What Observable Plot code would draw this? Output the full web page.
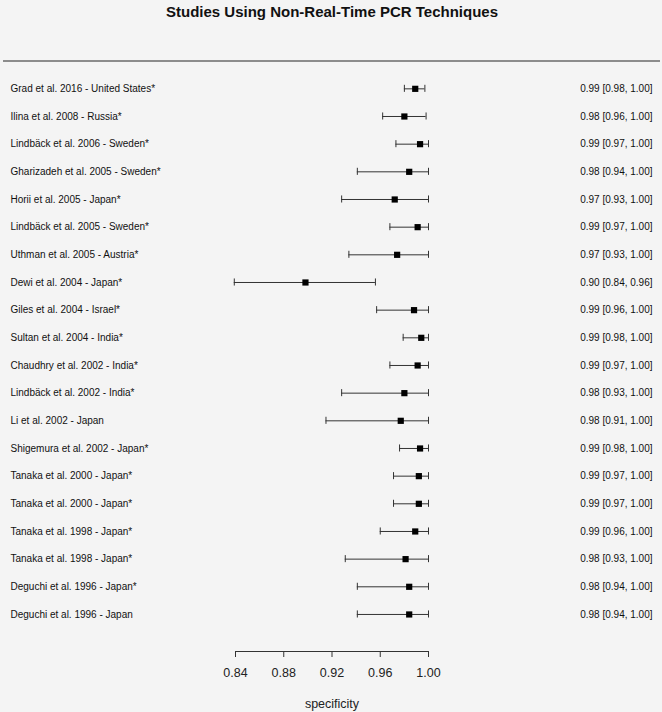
<!DOCTYPE html>
<html>
<head>
<meta charset="utf-8">
<script src="https://cdn.jsdelivr.net/npm/d3@7"></script>
<script src="https://cdn.jsdelivr.net/npm/@observablehq/plot@0.6"></script>
<style>
  html, body { margin: 0; padding: 0; background: #f4f4f4; }
  #chart { width: 662px; height: 712px; }
</style>
</head>
<body>
<div id="chart"></div>
<script>
const title = "Studies Using Non-Real-Time PCR Techniques";
const xLabel = "specificity";
const xTicks = [0.84, 0.88, 0.92, 0.96, 1.00];

const studies = [
  "Grad et al. 2016 - United States*",
  "Ilina et al. 2008 - Russia*",
  "Lindbäck et al. 2006 - Sweden*",
  "Gharizadeh et al. 2005 - Sweden*",
  "Horii et al. 2005 - Japan*",
  "Lindbäck et al. 2005 - Sweden*",
  "Uthman et al. 2005 - Austria*",
  "Dewi et al. 2004 - Japan*",
  "Giles et al. 2004 - Israel*",
  "Sultan et al. 2004 - India*",
  "Chaudhry et al. 2002 - India*",
  "Lindbäck et al. 2002 - India*",
  "Li et al. 2002 - Japan",
  "Shigemura et al. 2002 - Japan*",
  "Tanaka et al. 2000 - Japan*",
  "Tanaka et al. 2000 - Japan*",
  "Tanaka et al. 1998 - Japan*",
  "Tanaka et al. 1998 - Japan*",
  "Deguchi et al. 1996 - Japan*",
  "Deguchi et al. 1996 - Japan"
];
const estimate = [0.989, 0.980, 0.993, 0.984, 0.972, 0.991, 0.974, 0.898, 0.988, 0.994,
                  0.991, 0.980, 0.977, 0.993, 0.992, 0.992, 0.989, 0.981, 0.984, 0.984];
const lower    = [0.980, 0.962, 0.973, 0.941, 0.928, 0.968, 0.934, 0.839, 0.957, 0.979,
                  0.968, 0.928, 0.915, 0.976, 0.971, 0.971, 0.960, 0.931, 0.941, 0.941];
const upper    = [0.997, 0.998, 1.000, 1.000, 1.000, 1.000, 1.000, 0.956, 1.000, 1.000,
                  1.000, 1.000, 1.000, 1.000, 1.000, 1.000, 1.000, 1.000, 1.000, 1.000];
const ciText = [
  "0.99 [0.98, 1.00]", "0.98 [0.96, 1.00]", "0.99 [0.97, 1.00]", "0.98 [0.94, 1.00]",
  "0.97 [0.93, 1.00]", "0.99 [0.97, 1.00]", "0.97 [0.93, 1.00]", "0.90 [0.84, 0.96]",
  "0.99 [0.96, 1.00]", "0.99 [0.98, 1.00]", "0.99 [0.97, 1.00]", "0.98 [0.93, 1.00]",
  "0.98 [0.91, 1.00]", "0.99 [0.98, 1.00]", "0.99 [0.97, 1.00]", "0.99 [0.97, 1.00]",
  "0.99 [0.96, 1.00]", "0.98 [0.93, 1.00]", "0.98 [0.94, 1.00]", "0.98 [0.94, 1.00]"
];

const data = studies.map((s, i) => ({
  id: String(i), study: s, est: estimate[i], lo: lower[i], hi: upper[i], txt: ciText[i]
}));

const topLine = (index, scales, values, dims, context) => {
  const l = context.document.createElementNS("http://www.w3.org/2000/svg", "line");
  l.setAttribute("x1", 3);
  l.setAttribute("x2", dims.width - 2);
  l.setAttribute("y1", 61);
  l.setAttribute("y2", 61);
  l.setAttribute("stroke", "#6a6a6a");
  l.setAttribute("stroke-width", 1.5);
  return l;
};

const chart = Plot.plot({
  width: 662,
  height: 712,
  marginLeft: 235,
  marginRight: 234,
  marginTop: 0,
  marginBottom: 61,
  style: { background: "#f4f4f4", fontFamily: "'Liberation Sans', Arial, sans-serif", color: "#222" },
  x: { domain: [0.84, 1.00] },
  y: { type: "band", domain: data.map(d => d.id), range: [74.5, 627.8], padding: 0, round: false, axis: null },
  marks: [
    Plot.text([title], { frameAnchor: "top", dy: 6, lineAnchor: "top", fontSize: 15, fontWeight: "bold", fill: "#111" }),
    topLine,
    Plot.ruleY(data, { y: "id", x1: "lo", x2: "hi", stroke: "#333", strokeWidth: 1 }),
    Plot.tickX(data, { x: "lo", y: "id", insetTop: 10.3, insetBottom: 10.3, stroke: "#333" }),
    Plot.tickX(data, { x: "hi", y: "id", insetTop: 10.3, insetBottom: 10.3, stroke: "#333" }),
    Plot.dot(data, { x: "est", y: "id", symbol: "square", r: 3.5, fill: "#000", stroke: "none" }),
    Plot.text(data, { y: "id", text: "study", frameAnchor: "left", dx: -225, textAnchor: "start", fontSize: 10, fill: "#111" }),
    Plot.text(data, { y: "id", text: "txt", frameAnchor: "right", dx: 224, textAnchor: "end", fontSize: 10, fill: "#111" }),
    Plot.frame({ anchor: "bottom", stroke: "#333" }),
    Plot.axisX({ anchor: "bottom", ticks: xTicks, tickFormat: d3.format(".2f"), tickSize: 6, tickPadding: 11,
                 fontSize: 12.5, label: null, stroke: "#333" }),
    Plot.text([xLabel], { frameAnchor: "bottom", dy: 52, lineAnchor: "middle", fontSize: 12.5, fill: "#222" })
  ]
});

document.getElementById("chart").appendChild(chart);
</script>
</body>
</html>
